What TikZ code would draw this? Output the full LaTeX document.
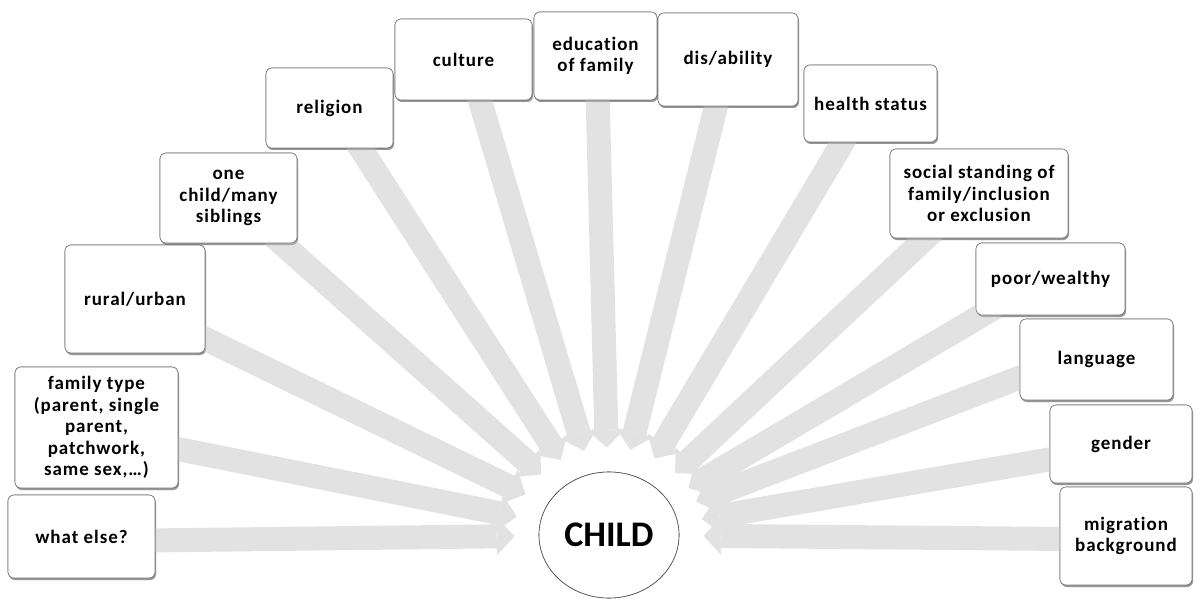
\documentclass[tikz,border=0pt]{standalone}
\usepackage{fontspec}
\setmainfont{Carlito}[LetterSpace=5,Ligatures=CommonOff]
\newfontfamily\childfont{Carlito}
\usetikzlibrary{shapes.geometric,arrows.meta,calc,shadows}
\definecolor{arrowgray}{RGB}{226,226,226}
\definecolor{boxline}{RGB}{120,120,120}
\begin{document}
\begin{tikzpicture}[x=1pt,y=-1pt,
  box/.style={draw=boxline, line width=0.6pt, fill=white, rounded corners=6pt,
    align=center, font=\fontsize{19}{21.5}\selectfont\bfseries, inner sep=2pt,
    drop shadow={shadow xshift=1pt,shadow yshift=-2pt,opacity=0.5,fill=black!55}},
  feed/.style={line width=24pt, draw=arrowgray,
    -{Triangle[length=18pt,width=38pt,line width=0pt]}, shorten >=24pt},
  childnode/.style={ellipse, draw=black!70, line width=0.6pt, fill=white,
    minimum width=140pt, minimum height=126pt, inner sep=0pt,
    font=\childfont\fontsize{36}{40}\selectfont\bfseries}
]
\useasboundingbox (0,0) rectangle (1200,599);

% centre node
\node[childnode] (child) at (609,535) {CHILD};

% boxes (placed first so that the arrows can refer to them)
\path
  node[box, minimum width=147pt, minimum height=83pt] (we) at (81.5,536.5) {what else?}
  node[box, minimum width=163pt, minimum height=121pt] (fam) at (96.5,427.5) {family type\\(parent, single\\parent,\\patchwork,\\same sex,\dots)}
  node[box, minimum width=140pt, minimum height=108pt] (rur) at (135,299) {rural/urban}
  node[box, minimum width=137pt, minimum height=90pt] (one) at (228.5,198) {one\\child/many\\siblings}
  node[box, minimum width=127pt, minimum height=80pt] (rel) at (329.5,108) {religion}
  node[box, minimum width=137pt, minimum height=81pt] (cul) at (463.5,59.5) {culture}
  node[box, minimum width=123pt, minimum height=88pt] (edu) at (595.5,56) {education\\of family}
  node[box, minimum width=140pt, minimum height=93pt] (dis) at (728,59.5) {dis/ability}
  node[box, minimum width=133pt, minimum height=77pt] (hea) at (870.5,103.5) {health status}
  node[box, minimum width=178pt, minimum height=89pt] (soc) at (979,193.5) {social standing of\\family/inclusion\\or exclusion}
  node[box, minimum width=149pt, minimum height=72pt] (poo) at (1050.5,279) {poor/wealthy}
  node[box, minimum width=153pt, minimum height=81pt] (lan) at (1096.5,359.5) {language}
  node[box, minimum width=142pt, minimum height=78pt] (gen) at (1121,444) {gender}
  node[box, minimum width=132pt, minimum height=98pt] (mig) at (1126,536) {migration\\background};

% arrows
\draw[feed] ($(we.east)+(-8,4)$) -- (child);
\draw[feed] ($(fam.east)+(-8,20)$) -- (child);
\draw[feed] ($(rur.east)+(-8,36)$) -- (child);
\draw[feed] ($(one.south)+(44,-8)$) -- (child);
\draw[feed] ($(rel.south)+(26,-8)$) -- (child);
\draw[feed] ($(cul.south)+(14,-8)$) -- (child);
\draw[feed] ($(edu.south)+(2,-8)$) -- (child);
\draw[feed] ($(dis.south)+(-10,-8)$) -- (child);
\draw[feed] ($(hea.south)+(-23,-8)$) -- (child);
\draw[feed] ($(soc.south)+(-45,-8)$) -- (child);
\draw[feed] ($(poo.south)+(-55,-8)$) -- (child);
\draw[feed] ($(lan.west)+(8,15)$) -- (child);
\draw[feed] ($(gen.west)+(8,14)$) -- (child);
\draw[feed] ($(mig.west)+(8,3)$) -- (child);

% boxes again, on top of the arrow tails
\path
  node[box, minimum width=147pt, minimum height=83pt] at (we) {what else?}
  node[box, minimum width=163pt, minimum height=121pt] at (fam) {family type\\(parent, single\\parent,\\patchwork,\\same sex,\dots)}
  node[box, minimum width=140pt, minimum height=108pt] at (rur) {rural/urban}
  node[box, minimum width=137pt, minimum height=90pt] at (one) {one\\child/many\\siblings}
  node[box, minimum width=127pt, minimum height=80pt] at (rel) {religion}
  node[box, minimum width=137pt, minimum height=81pt] at (cul) {culture}
  node[box, minimum width=123pt, minimum height=88pt] at (edu) {education\\of family}
  node[box, minimum width=140pt, minimum height=93pt] at (dis) {dis/ability}
  node[box, minimum width=133pt, minimum height=77pt] at (hea) {health status}
  node[box, minimum width=178pt, minimum height=89pt] at (soc) {social standing of\\family/inclusion\\or exclusion}
  node[box, minimum width=149pt, minimum height=72pt] at (poo) {poor/wealthy}
  node[box, minimum width=153pt, minimum height=81pt] at (lan) {language}
  node[box, minimum width=142pt, minimum height=78pt] at (gen) {gender}
  node[box, minimum width=132pt, minimum height=98pt] at (mig) {migration\\background};
\node[childnode] at (child) {CHILD};
\end{tikzpicture}
\end{document}
